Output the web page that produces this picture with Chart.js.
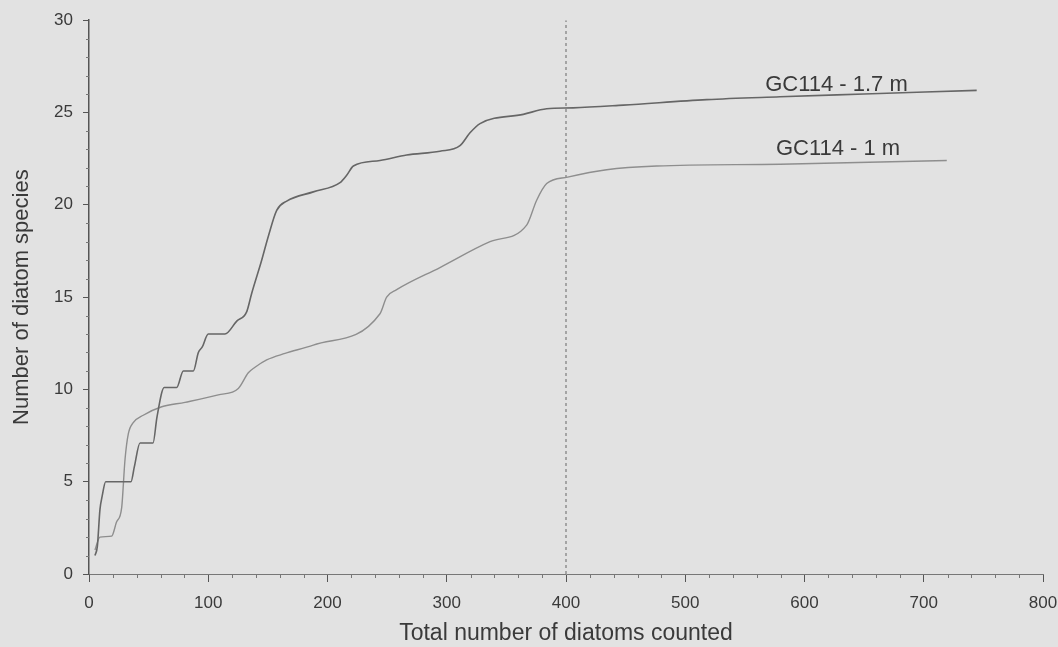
<!DOCTYPE html>
<html lang="en">
<head>
  <meta charset="UTF-8" />
  <title>Diatom species accumulation</title>
  <script src="https://cdn.jsdelivr.net/npm/chart.js"></script>
  <style>
    body { margin: 0; background: #e2e2e2; }
    canvas { display: block; background: #e2e2e2; }
  </style>
</head>
<body>
  <canvas id="curveChart" width="1058" height="647"></canvas>

  <script>
    // species accumulation curves
    const seriesNames = ['GC114 - 1.7 m', 'GC114 - 1 m'];

    const countA = [5, 7, 9.2, 11, 14, 35.2, 38, 42.8, 53.7, 57, 63.1, 73.5, 79.1, 87.5, 91.7, 95, 100, 114, 123.9, 132.2, 136.4, 144.8, 150.4, 157.4, 165.8, 188.1, 210.5, 216.1, 221.7, 244, 266.4, 294.3, 311.1, 319.5, 327.9, 364.2, 383.8, 405.9, 448.1, 518, 579.5, 650, 744.4];
    const speciesA = [1.0, 1.5, 3.5, 4.2, 5.0, 5.0, 5.8, 7.1, 7.1, 8.5, 10.1, 10.1, 11.0, 11.0, 12.0, 12.3, 13.0, 13.0, 13.7, 14.2, 15.2, 17.0, 18.3, 19.7, 20.2, 20.7, 21.2, 21.6, 22.1, 22.4, 22.7, 22.9, 23.2, 23.9, 24.4, 24.9, 25.2, 25.25, 25.4, 25.7, 25.85, 26.0, 26.2];

    const countB = [5, 9.2, 19, 23, 27.4, 30.2, 33, 37.1, 45.5, 61, 80.5, 108.4, 125.2, 133.6, 139.2, 149, 164.4, 188.1, 244, 249.6, 258, 294.3, 336.3, 367, 375.4, 383.8, 401.4, 434.1, 476.1, 579.5, 719.3];
    const speciesB = [1.3, 2.0, 2.05, 2.8, 3.6, 6.2, 7.6, 8.2, 8.6, 9.06, 9.3, 9.7, 10.05, 10.9, 11.2, 11.6, 11.95, 12.4, 14.1, 15.0, 15.4, 16.6, 18.0, 18.9, 20.25, 21.15, 21.5, 21.9, 22.1, 22.2, 22.4];

    const cutoffCount = 400;
    const xMax = 800, yMax = 30;

    // where the series names sit, in data units
    const nameX = [567, 576];
    const nameY = [26.5, 23.0];

    const FONT = '"Liberation Sans", Arial, sans-serif';
    const TEXT = '#3a3a3a';

    function toPoints(xs, ys) {
      return xs.map((x, i) => ({ x: x, y: ys[i] }));
    }

    const minorTicks = {
      id: 'minorTicks',
      afterDraw(chart) {
        const ctx = chart.ctx, xs = chart.scales.x, ys = chart.scales.y;
        const area = chart.chartArea;
        ctx.save();
        ctx.strokeStyle = '#777';
        ctx.lineWidth = 1;
        ctx.beginPath();
        for (let v = 1; v < yMax; v++) {
          if (v % 5 === 0) continue;
          const py = Math.round(ys.getPixelForValue(v)) + 0.5;
          ctx.moveTo(area.left - 3, py);
          ctx.lineTo(area.left, py);
        }
        for (let v = 20; v < xMax; v += 20) {
          if (v % 100 === 0) continue;
          const px = Math.round(xs.getPixelForValue(v)) + 0.5;
          ctx.moveTo(px, area.bottom);
          ctx.lineTo(px, area.bottom + 4);
        }
        ctx.stroke();
        ctx.restore();
      }
    };

    const seriesLabels = {
      id: 'seriesLabels',
      afterDatasetsDraw(chart) {
        const ctx = chart.ctx, xs = chart.scales.x, ys = chart.scales.y;
        ctx.save();
        ctx.font = '22px ' + FONT;
        ctx.fillStyle = TEXT;
        ctx.textBaseline = 'middle';
        seriesNames.forEach((name, i) => {
          ctx.fillText(name, xs.getPixelForValue(nameX[i]), ys.getPixelForValue(nameY[i]));
        });
        ctx.restore();
      }
    };

    const ctx = document.getElementById('curveChart').getContext('2d');
    new Chart(ctx, {
      type: 'line',
      data: {
        datasets: [
          {
            label: seriesNames[0],
            data: toPoints(countA, speciesA),
            borderColor: '#666',
            borderWidth: 1.6,
            pointRadius: 0,
            cubicInterpolationMode: 'monotone',
            fill: false
          },
          {
            label: seriesNames[1],
            data: toPoints(countB, speciesB),
            borderColor: '#8e8e8e',
            borderWidth: 1.4,
            pointRadius: 0,
            cubicInterpolationMode: 'monotone',
            fill: false
          },
          {
            label: 'cutoff',
            data: toPoints([cutoffCount, cutoffCount], [0, yMax]),
            borderColor: '#666',
            borderWidth: 1,
            borderDash: [3, 3],
            pointRadius: 0,
            fill: false
          }
        ]
      },
      options: {
        responsive: false,
        animation: false,
        layout: { padding: { top: 20, right: 15, left: 0, bottom: 0 } },
        plugins: {
          legend: { display: false },
          tooltip: { enabled: false }
        },
        scales: {
          x: {
            type: 'linear',
            min: 0,
            max: xMax,
            ticks: {
              stepSize: 100,
              autoSkip: false,
              maxRotation: 0,
              padding: 11,
              color: TEXT,
              font: { family: FONT, size: 17 }
            },
            grid: { drawOnChartArea: false, tickLength: 8, tickColor: '#555' },
            border: { color: '#777', width: 1, dash: [2, 2] },
            title: {
              display: true,
              text: 'Total number of diatoms counted',
              color: TEXT,
              font: { family: FONT, size: 23 },
              padding: { top: 0, bottom: 0 }
            },
            afterFit(scale) {
              scale.height = 73;
              scale.paddingRight = 0;
              scale.paddingLeft = 0;
            }
          },
          y: {
            min: 0,
            max: yMax,
            ticks: {
              stepSize: 5,
              autoSkip: false,
              padding: 10,
              color: TEXT,
              font: { family: FONT, size: 17 }
            },
            grid: { drawOnChartArea: false, tickLength: 6, tickColor: '#555' },
            border: { color: '#555', width: 1.5 },
            title: {
              display: true,
              text: 'Number of diatom species',
              color: TEXT,
              font: { family: FONT, size: 22 },
              padding: { top: 9, bottom: 0 }
            },
            afterFit(scale) { scale.width = 89; }
          }
        }
      },
      plugins: [minorTicks, seriesLabels]
    });
  </script>
</body>
</html>
